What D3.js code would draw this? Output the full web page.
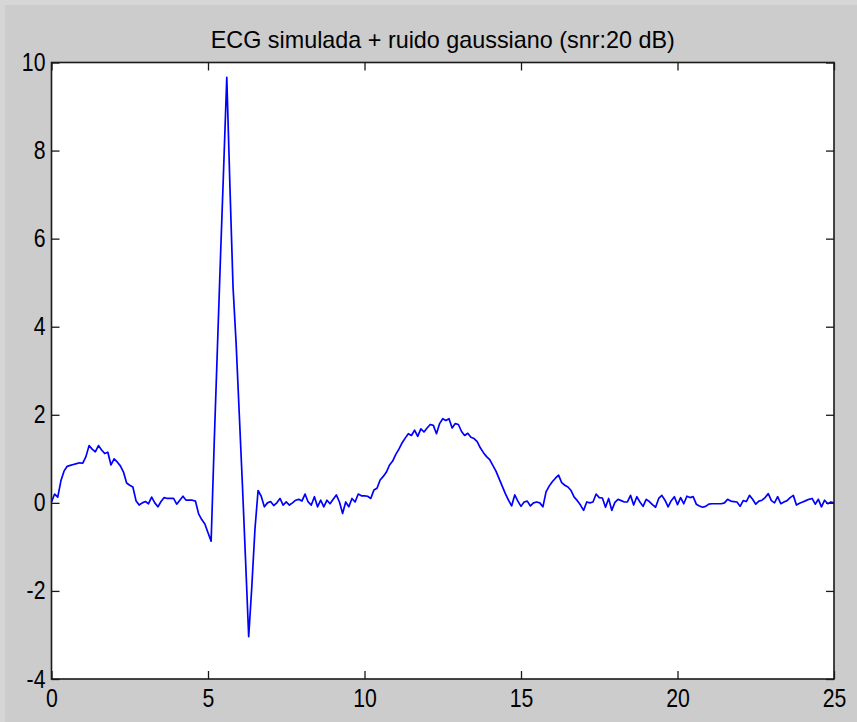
<!DOCTYPE html>
<html>
<head>
<meta charset="utf-8">
<script src="https://cdn.jsdelivr.net/npm/d3@7"></script>
<style>
  html, body { margin: 0; padding: 0; background: #cccccc; }
  svg { display: block; }
  text { font-family: "Liberation Sans", Arial, sans-serif; fill: #000; }
</style>
</head>
<body>
<script>
// Simulated ECG beat with additive gaussian noise, sampled every 0.1 s
const sampleStart = 0;
const sampleStep = 0.1;
const ecgNoisy = [
   0.02,  0.20,  0.13,  0.50,  0.72,  0.83,  0.85,  0.87,  0.89,  0.91,
   0.90,  1.05,  1.30,  1.22,  1.16,  1.30,  1.20,  1.12,  1.15,  0.86,
   1.00,  0.93,  0.84,  0.70,  0.45,  0.40,  0.36,  0.05, -0.05,  0.00,
   0.03, -0.02,  0.13,  0.00, -0.09,  0.03,  0.12,  0.10,  0.10,  0.10,
  -0.03,  0.06,  0.15,  0.06,  0.06,  0.06,  0.04, -0.25, -0.38, -0.48,
  -0.68, -0.87,  1.40,  3.50,  5.60,  7.60,  9.66,  7.20,  4.90,  3.60,
   2.00,  0.40, -1.30, -3.04, -1.90, -0.60,  0.28,  0.15, -0.09,  0.00,
   0.03, -0.06,  0.00,  0.10, -0.05,  0.02, -0.05,  0.00,  0.06,  0.08,
   0.04,  0.20,  0.02, -0.05,  0.14, -0.09,  0.06, -0.09,  0.06, -0.02,
   0.08,  0.18,  0.02, -0.24,  0.02, -0.09,  0.10,  0.02,  0.20,  0.16,
   0.16,  0.15,  0.10,  0.29,  0.33,  0.52,  0.60,  0.70,  0.86,  0.95,
   1.10,  1.22,  1.36,  1.47,  1.57,  1.53,  1.65,  1.51,  1.68,  1.61,
   1.70,  1.78,  1.76,  1.57,  1.80,  1.91,  1.87,  1.91,  1.70,  1.80,
   1.78,  1.62,  1.53,  1.58,  1.49,  1.46,  1.39,  1.25,  1.14,  1.05,
   0.98,  0.85,  0.72,  0.55,  0.38,  0.21,  0.06, -0.07,  0.18,  0.04,
  -0.08,  0.02,  0.04, -0.07,  0.00,  0.02,  0.00, -0.09,  0.25,  0.38,
   0.48,  0.56,  0.63,  0.46,  0.40,  0.36,  0.28,  0.13,  0.05, -0.05,
  -0.17,  0.02,  0.00,  0.02,  0.20,  0.12,  0.11, -0.10,  0.10, -0.17,
   0.01,  0.08,  0.05,  0.02,  0.02,  0.17, -0.05,  0.14,  0.02, -0.08,
   0.08,  0.03, -0.04, -0.10,  0.10,  0.17,  0.06, -0.09,  0.05,  0.14,
  -0.04,  0.12, -0.02,  0.15,  0.12,  0.14, -0.03, -0.07, -0.10, -0.08,
  -0.03, -0.02, -0.02, -0.02, -0.02,  0.00,  0.08,  0.04,  0.03,  0.02,
  -0.08,  0.05,  0.03,  0.17,  0.08, -0.03,  0.04,  0.06,  0.12,  0.21,
   0.05,  0.00,  0.14, -0.02,  0.02,  0.05,  0.12,  0.17, -0.05, -0.01,
   0.02,  0.05,  0.08,  0.10, -0.03,  0.08, -0.09,  0.06, -0.02,  0.02,
   0.00
];
const xTicks = [0, 5, 10, 15, 20, 25];
const yTicks = [-4, -2, 0, 2, 4, 6, 8, 10];
const xDomain = [0, 25];
const yDomain = [-4, 10];
const titleText = "ECG simulada + ruido gaussiano (snr:20 dB)";

const W = 857, H = 722;
const plot = { left: 51.5, right: 834, top: 62.5, bottom: 679 };
const tickLen = 8;
const labelFont = '"Liberation Sans", Arial, sans-serif';
const labelSize = 25;
const labelSqueeze = 0.85;

const svg = d3.select("body").append("svg")
  .attr("width", W).attr("height", H);

// figure background with a light frame edge on top and left
svg.append("rect").attr("width", W).attr("height", H).attr("fill", "#cccccc");
svg.append("rect").attr("width", W).attr("height", 5).attr("fill", "#d6d6d6");
svg.append("rect").attr("width", 5).attr("height", H).attr("fill", "#d6d6d6");

const x = d3.scaleLinear().domain(xDomain).range([plot.left, plot.right]);
const y = d3.scaleLinear().domain(yDomain).range([plot.bottom, plot.top]);

// white axes area
svg.append("rect")
  .attr("x", plot.left).attr("y", plot.top)
  .attr("width", plot.right - plot.left).attr("height", plot.bottom - plot.top)
  .attr("fill", "#ffffff");

// signal
const pts = ecgNoisy.map((v, i) => [sampleStart + i * sampleStep, v]);
const line = d3.line().x(d => x(d[0])).y(d => y(d[1]));
svg.append("path")
  .datum(pts)
  .attr("d", line)
  .attr("fill", "none")
  .attr("stroke", "#0000ff")
  .attr("stroke-width", 1.7)
  .attr("stroke-linejoin", "round");

// axes with inward ticks on all four sides
const axisColor = "#1a1a1a";
const plainNumber = d => String(d);
function styleAxis(g) {
  g.select(".domain").remove();
  g.selectAll(".tick line").attr("stroke", axisColor).attr("stroke-width", 1.3);
  g.selectAll(".tick text")
    .style("font-family", labelFont)
    .style("font-size", labelSize + "px")
    .attr("fill", "#000")
    .each(function () {
      const len = this.getComputedTextLength();
      if (len > 0) {
        d3.select(this)
          .attr("textLength", len * labelSqueeze)
          .attr("lengthAdjust", "spacingAndGlyphs");
      }
    });
}
svg.append("g").attr("transform", `translate(0,${plot.bottom})`)
  .call(d3.axisBottom(x).tickValues(xTicks).tickSizeInner(-tickLen).tickSizeOuter(0).tickPadding(10).tickFormat(plainNumber))
  .call(styleAxis);
svg.append("g").attr("transform", `translate(0,${plot.top})`)
  .call(d3.axisTop(x).tickValues(xTicks).tickSizeInner(-tickLen).tickSizeOuter(0).tickFormat(""))
  .call(styleAxis);
svg.append("g").attr("transform", `translate(${plot.left},0)`)
  .call(d3.axisLeft(y).tickValues(yTicks).tickSizeInner(-tickLen).tickSizeOuter(0).tickPadding(6).tickFormat(plainNumber))
  .call(styleAxis);
svg.append("g").attr("transform", `translate(${plot.right},0)`)
  .call(d3.axisRight(y).tickValues(yTicks).tickSizeInner(-tickLen).tickSizeOuter(0).tickFormat(""))
  .call(styleAxis);

// box
svg.append("rect")
  .attr("x", plot.left).attr("y", plot.top)
  .attr("width", plot.right - plot.left).attr("height", plot.bottom - plot.top)
  .attr("fill", "none").attr("stroke", axisColor).attr("stroke-width", 1.6);

// title
svg.append("text")
  .attr("x", (plot.left + plot.right) / 2)
  .attr("y", 48)
  .attr("text-anchor", "middle")
  .attr("textLength", 464)
  .attr("lengthAdjust", "spacingAndGlyphs")
  .style("font-size", "24px")
  .text(titleText);
</script>
</body>
</html>
